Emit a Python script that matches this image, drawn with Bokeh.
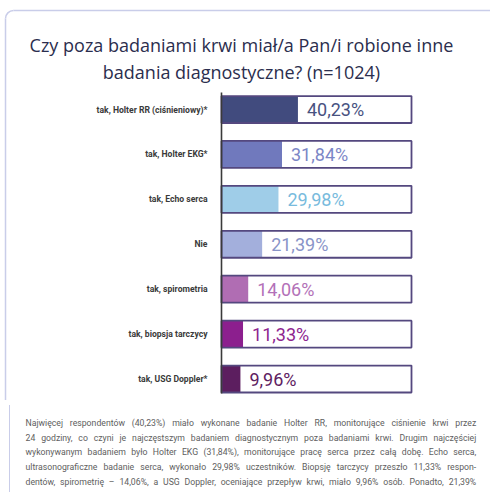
from bokeh.plotting import figure
from bokeh.models import Range1d, ColumnDataSource, Div
from bokeh.layouts import column
from bokeh.core.properties import value
from bokeh.embed import file_html
from bokeh.resources import INLINE
import math

# ---- data ----
categories = [
    "tak, Holter RR (ciśnieniowy)*",
    "tak, Holter EKG*",
    "tak, Echo serca",
    "Nie",
    "tak, spirometria",
    "tak, biopsja tarczycy",
    "tak, USG Doppler*",
]
values = [40.23, 31.84, 29.98, 21.39, 14.06, 11.33, 9.96]
value_labels = ["40,23%", "31,84%", "29,98%", "21,39%", "14,06%", "11,33%", "9,96%"]
bar_colors = ["#414b7e", "#7079bd", "#9fcde8", "#a3afdc", "#b06db3", "#8c1f8e", "#5c1e5f"]
text_colors = ["#48527f", "#7b86c6", "#78bbdd", "#8994c8", "#b371b8", "#8e2590", "#5e2161"]
full_scale = [100] * len(values)

title_lines = [
    "Czy poza badaniami krwi miał/a Pan/i robione inne",
    "badania diagnostyczne? (n=1024)",
]
footer_lines = [
    "Najwięcej respondentów (40,23%) miało wykonane badanie Holter RR, monitorujące ciśnienie krwi przez",
    "24 godziny, co czyni je najczęstszym badaniem diagnostycznym poza badaniami krwi. Drugim najczęściej",
    "wykonywanym badaniem było Holter EKG (31,84%), monitorujące pracę serca przez całą dobę. Echo serca,",
    "ultrasonograficzne badanie serca, wykonało 29,98% uczestników. Biopsję tarczycy przeszło 11,33% respon-",
    "dentów, spirometrię – 14,06%, a USG Doppler, oceniające przepływ krwi, miało 9,96% osób. Ponadto, 21,39%",
    "respondentów nie miało żadnych innych badań poza badaniami krwi.",
]

rows = list(range(len(categories)))
src = ColumnDataSource(dict(
    y=rows, cat=categories, val=values, lab=value_labels,
    col=bar_colors, tcol=text_colors, full=full_scale,
))

W, H = 490, 400
BORDER = "#c9cde9"
p = figure(width=W, height=H, output_backend="svg", toolbar_location=None,
           x_axis_type=None, y_axis_type=None,
           x_range=Range1d(-116.316, 141.579), y_range=Range1d(6.478, -2.4266),
           min_border=0, outline_line_color=None, background_fill_color="white",
           border_fill_color="white")
p.grid.visible = False

# card border (top, left, rounded corner)
p.segment(x0=[-109.47], x1=[141.6], y0=[-2.2039], y1=[-2.2039], line_color=BORDER, line_width=1.5)
p.segment(x0=[-113.68], x1=[-113.68], y0=[-2.0258], y1=[6.5], line_color=BORDER, line_width=1.5)
p.arc(x=[-109.47], y=[-2.0258], radius=8, radius_units="screen",
      start_angle=math.pi / 2, end_angle=math.pi, line_color=BORDER, line_width=1.5)

# background boxes
p.hbar(y="y", left=0, right="full", height=0.6, source=src,
       fill_color="white", line_color=None)
# value bars
p.hbar(y="y", left=0, right="val", height=0.6, source=src,
       fill_color="col", line_color=None)
# outlines
p.hbar(y="y", left=0, right="full", height=0.6, source=src,
       fill_color=None, line_color="#54487f", line_width=1.8)

# axis line
p.segment(x0=[0], x1=[0], y0=[-0.38], y1=[6.32], line_color="#3a3a3a", line_width=1.6)

# category labels
p.text(x=0, y="y", text="cat", source=src, x_offset=-14,
       text_align="right", text_baseline="middle",
       text_font=value("Roboto"), text_font_size="8.6px", text_font_style="bold",
       text_color="#3a3a3a")

# value labels
p.text(x="val", y="y", text="lab", source=src, x_offset=9,
       text_align="left", text_baseline="middle",
       text_font=value("Roboto"), text_font_size="18px", text_color="tcol")

# title
p.text(x=[10.5, 10.5], y=[-1.447, -0.846], text=title_lines,
       text_align="center", text_baseline="alphabetic",
       text_font=value("Open Sans"), text_font_size="18px", text_color="#2b2e4e")

line_html = "".join(
    f'<div style="text-align:justify;text-align-last:{"justify" if i < len(footer_lines) - 1 else "left"};'
    f'height:14.7px;line-height:14.7px;white-space:nowrap;">{t}</div>'
    for i, t in enumerate(footer_lines)
)
footer = Div(
    text=f'<div style="margin-left:4.25px;border-left:1.5px solid {BORDER};height:92px;">'
         f'<div style="font-family:Roboto;font-size:8.7px;color:#5e5e5e;'
         f'padding-left:15.25px;padding-top:10.9px;width:466px;">{line_html}</div></div>',
    width=490, height=92,
    styles={"overflow": "hidden"},
)

layout = column(p, footer, spacing=0)
open("out.html", "w").write(file_html(layout, INLINE))
